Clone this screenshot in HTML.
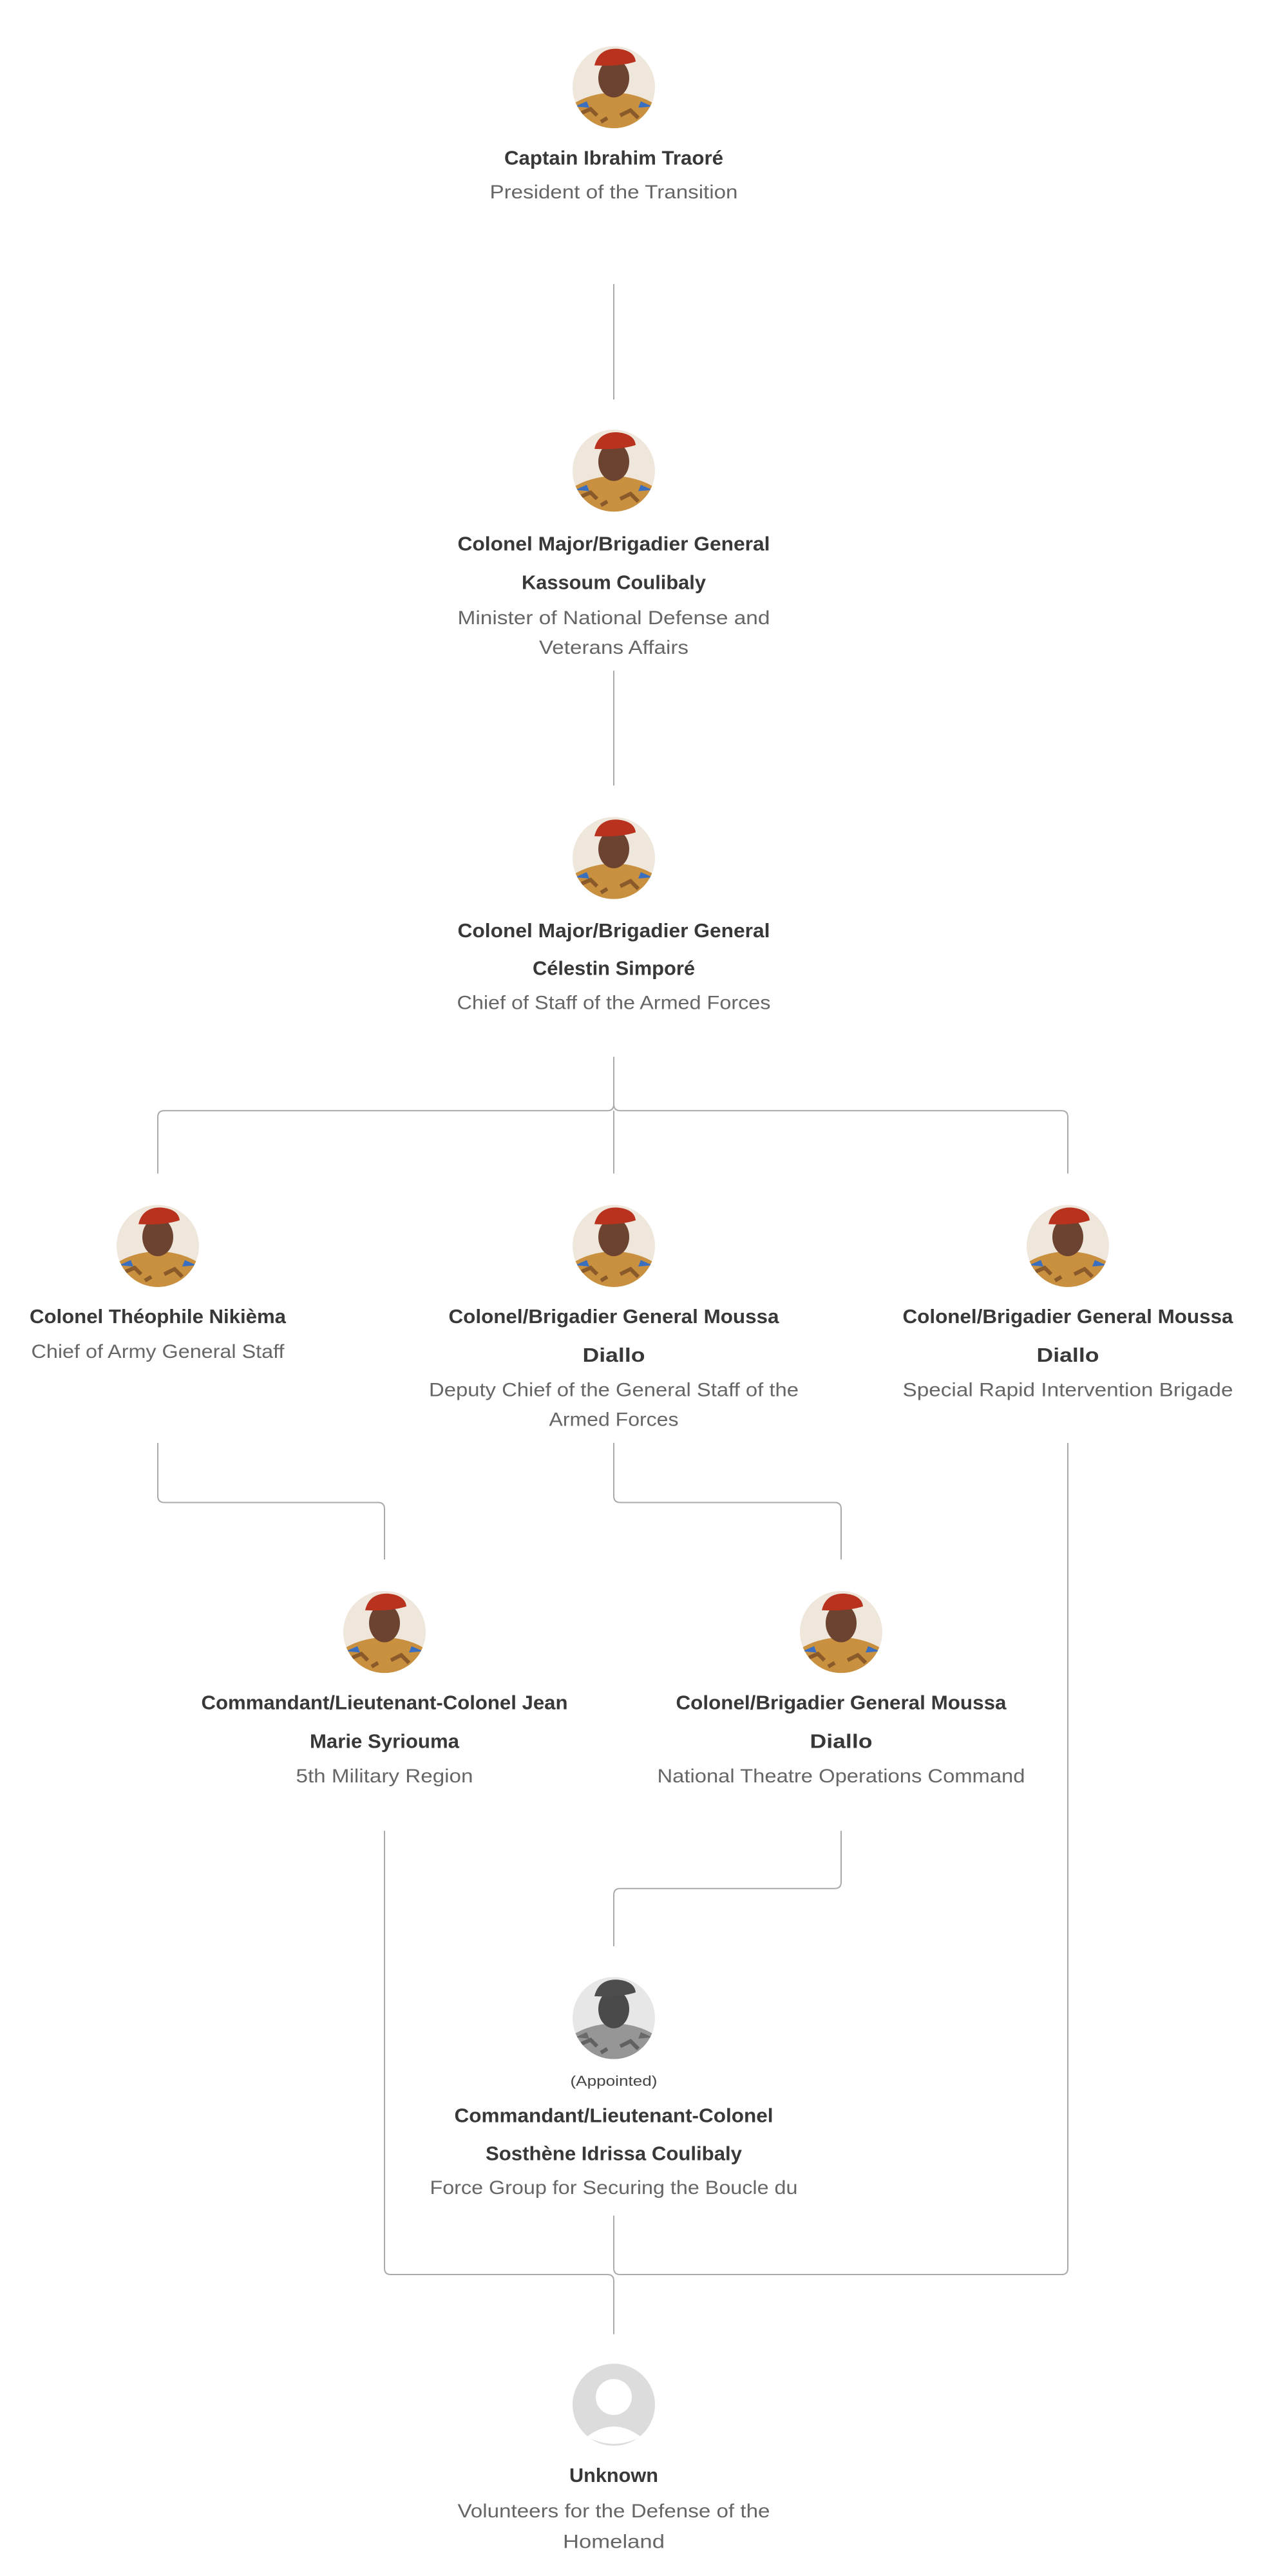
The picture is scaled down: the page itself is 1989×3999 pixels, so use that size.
<!DOCTYPE html>
<html><head><meta charset="utf-8"><style>
html,body{margin:0;padding:0;background:#fff;}
svg{display:block;}
.n{font-family:"Liberation Sans",sans-serif;font-weight:bold;font-size:31px;fill:#383838;}
.s{font-family:"Liberation Sans",sans-serif;font-size:30px;fill:#666;}
.a{font-family:"Liberation Sans",sans-serif;font-size:22px;fill:#444;}
.l{fill:none;stroke:#aaa;stroke-width:2;}
</style></head><body>
<svg width="1989" height="3999" viewBox="0 0 1989 3999" xmlns="http://www.w3.org/2000/svg">
<defs>
<clipPath id="c"><circle cx="0" cy="0" r="64"/></clipPath>
<g id="p">
 <g clip-path="url(#c)">
  <rect x="-64" y="-64" width="128" height="128" fill="#efe6dc"/>
  <path d="M-70 64 L-66 28 Q-40 10 0 8 Q40 10 66 28 L70 64Z" fill="#c8903f"/>
  <path d="M-50 40 l14 -6 l10 10 M10 44 l16 -8 l12 12 M-20 54 l10 -6" stroke="#8a5a2a" stroke-width="6" fill="none"/>
  <path d="M-60 30 l18 -8 l4 10z M60 30 l-18 -8 l-4 10z" fill="#3a6fc0"/>
  <path d="M-16 8 Q0 22 16 8 L14 -2 L-14 -2Z" fill="#d58b45"/>
  <ellipse cx="0" cy="-14" rx="24" ry="30" fill="#6b4330"/>
  <path d="M-30 -34 Q-24 -60 4 -60 Q32 -58 34 -40 Q10 -32 -30 -34Z" fill="#b8321e"/>
 </g>
</g>
</defs>
<g transform="matrix(1 0 0 0.9955 0 0)">
<!-- connectors -->
<path class="l" d="M953 443 V623"/>
<path class="l" d="M953 1046 V1225"/>
<path class="l" d="M953 1648 V1722 Q953 1732 943 1732 H255 Q245 1732 245 1742 V1830"/>
<path class="l" d="M953 1722 Q953 1732 963 1732 H1648 Q1658 1732 1658 1742 V1830"/>
<path class="l" d="M953 1732 V1830"/>
<path class="l" d="M245 2250 V2333 Q245 2343 255 2343 H587 Q597 2343 597 2353 V2432"/>
<path class="l" d="M953 2250 V2333 Q953 2343 963 2343 H1296 Q1306 2343 1306 2353 V2432"/>
<path class="l" d="M1306 2855 V2935 Q1306 2945 1296 2945 H963 Q953 2945 953 2955 V3035"/>
<path class="l" d="M597 2855 V3537 Q597 3547 607 3547 H943 Q953 3547 953 3557 V3640"/>
<path class="l" d="M1658 2250 V3537 Q1658 3547 1648 3547 H963 Q953 3547 953 3537 V3455"/>

<!-- avatars -->
<use href="#p" x="953" y="136"/>
<use href="#p" x="953" y="734"/>
<use href="#p" x="953" y="1338"/>
<use href="#p" x="245" y="1943"/>
<use href="#p" x="953" y="1943"/>
<use href="#p" x="1658" y="1943"/>
<use href="#p" x="597" y="2545"/>
<use href="#p" x="1306" y="2545"/>
<use href="#p" x="953" y="3147" style="filter:grayscale(1)"/>
<g>
 <circle cx="953" cy="3750" r="64" fill="#dcdcdc"/>
 <circle cx="953" cy="3738" r="28" fill="#fff"/>
 <path d="M911 3800 Q953 3768 995 3800 Q953 3822 911 3800Z" fill="#fff"/>
</g>

<!-- text -->
<g text-anchor="middle" dominant-baseline="central">
<text class="n" x="953" y="246" textLength="340" lengthAdjust="spacingAndGlyphs">Captain Ibrahim Traoré</text>
<text class="s" x="953" y="300" textLength="385" lengthAdjust="spacingAndGlyphs">President of the Transition</text>

<text class="n" x="953" y="848" textLength="485" lengthAdjust="spacingAndGlyphs">Colonel Major/Brigadier General</text>
<text class="n" x="953" y="908" textLength="286" lengthAdjust="spacingAndGlyphs">Kassoum Coulibaly</text>
<text class="s" x="953" y="964" textLength="485" lengthAdjust="spacingAndGlyphs">Minister of National Defense and</text>
<text class="s" x="953" y="1010" textLength="232" lengthAdjust="spacingAndGlyphs">Veterans Affairs</text>

<text class="n" x="953" y="1451" textLength="485" lengthAdjust="spacingAndGlyphs">Colonel Major/Brigadier General</text>
<text class="n" x="953" y="1510" textLength="252" lengthAdjust="spacingAndGlyphs">Célestin Simporé</text>
<text class="s" x="953" y="1564" textLength="487" lengthAdjust="spacingAndGlyphs">Chief of Staff of the Armed Forces</text>

<text class="n" x="245" y="2053" textLength="398" lengthAdjust="spacingAndGlyphs">Colonel Théophile Nikièma</text>
<text class="s" x="245" y="2108" textLength="393" lengthAdjust="spacingAndGlyphs">Chief of Army General Staff</text>

<text class="n" x="953" y="2053" textLength="513" lengthAdjust="spacingAndGlyphs">Colonel/Brigadier General Moussa</text>
<text class="n" x="953" y="2113" textLength="97" lengthAdjust="spacingAndGlyphs">Diallo</text>
<text class="s" x="953" y="2168" textLength="574" lengthAdjust="spacingAndGlyphs">Deputy Chief of the General Staff of the</text>
<text class="s" x="953" y="2214" textLength="201" lengthAdjust="spacingAndGlyphs">Armed Forces</text>

<text class="n" x="1658" y="2053" textLength="513" lengthAdjust="spacingAndGlyphs">Colonel/Brigadier General Moussa</text>
<text class="n" x="1658" y="2113" textLength="97" lengthAdjust="spacingAndGlyphs">Diallo</text>
<text class="s" x="1658" y="2168" textLength="513" lengthAdjust="spacingAndGlyphs">Special Rapid Intervention Brigade</text>

<text class="n" x="597" y="2655" textLength="569" lengthAdjust="spacingAndGlyphs">Commandant/Lieutenant-Colonel Jean</text>
<text class="n" x="597" y="2715" textLength="232" lengthAdjust="spacingAndGlyphs">Marie Syriouma</text>
<text class="s" x="597" y="2770" textLength="275" lengthAdjust="spacingAndGlyphs">5th Military Region</text>

<text class="n" x="1306" y="2655" textLength="513" lengthAdjust="spacingAndGlyphs">Colonel/Brigadier General Moussa</text>
<text class="n" x="1306" y="2715" textLength="97" lengthAdjust="spacingAndGlyphs">Diallo</text>
<text class="s" x="1306" y="2770" textLength="571" lengthAdjust="spacingAndGlyphs">National Theatre Operations Command</text>

<text class="a" x="953" y="3245" textLength="135" lengthAdjust="spacingAndGlyphs">(Appointed)</text>
<text class="n" x="953" y="3299" textLength="495" lengthAdjust="spacingAndGlyphs">Commandant/Lieutenant-Colonel</text>
<text class="n" x="953" y="3358" textLength="398" lengthAdjust="spacingAndGlyphs">Sosthène Idrissa Coulibaly</text>
<text class="s" x="953" y="3412" textLength="571" lengthAdjust="spacingAndGlyphs">Force Group for Securing the Boucle du</text>

<text class="n" x="953" y="3860" textLength="138" lengthAdjust="spacingAndGlyphs">Unknown</text>
<text class="s" x="953" y="3916" textLength="485" lengthAdjust="spacingAndGlyphs">Volunteers for the Defense of the</text>
<text class="s" x="953" y="3964" textLength="158" lengthAdjust="spacingAndGlyphs">Homeland</text>
</g>
</g>
</svg>
</body></html>
